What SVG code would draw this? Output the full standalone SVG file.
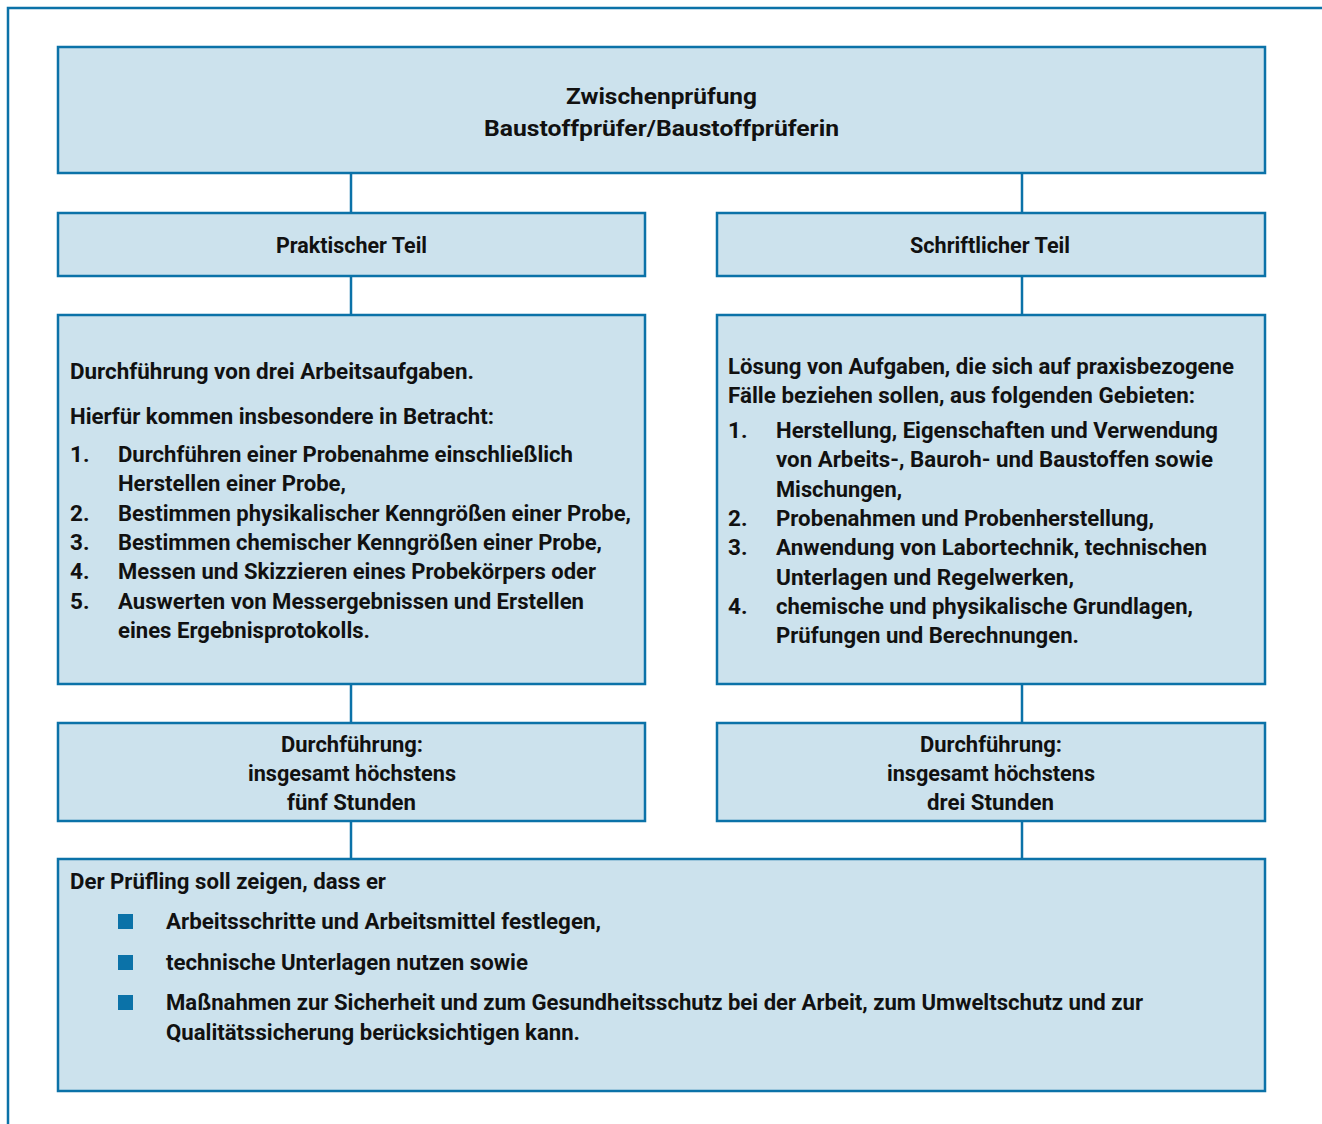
<svg xmlns="http://www.w3.org/2000/svg" width="1322" height="1124" viewBox="0 0 1322 1124">
  <style>
    .box { fill: #cce2ed; stroke: #0b72a8; stroke-width: 2.5; }
    .frame { fill: none; stroke: #0b72a8; stroke-width: 2.5; }
    .link { fill: none; stroke: #0b72a8; stroke-width: 2.5; }
    text { font-family: Roboto, "Liberation Sans", sans-serif; font-weight: bold; font-size: 22.5px; fill: #111111; }
    .c { text-anchor: middle; }
    .bullet { fill: #0b72a8; }
  </style>
  <rect width="1322" height="1124" fill="#ffffff"/>
  <!-- outer frame -->
  <path class="frame" d="M8 1124 V8 H1322"/>

  <!-- connectors -->
  <g id="connectors">
    <line class="link" x1="351" y1="173" x2="351" y2="213"/>
    <line class="link" x1="1022" y1="173" x2="1022" y2="213"/>
    <line class="link" x1="351" y1="276" x2="351" y2="315"/>
    <line class="link" x1="1022" y1="276" x2="1022" y2="315"/>
    <line class="link" x1="351" y1="684" x2="351" y2="723"/>
    <line class="link" x1="1022" y1="684" x2="1022" y2="723"/>
    <line class="link" x1="351" y1="821" x2="351" y2="859"/>
    <line class="link" x1="1022" y1="821" x2="1022" y2="859"/>
  </g>

  <g id="title">
    <rect class="box" x="58" y="47" width="1207" height="126"/>
    <text class="c" x="661.5" y="104" textLength="191" lengthAdjust="spacingAndGlyphs">Zwischenprüfung</text>
    <text class="c" x="661.5" y="136" textLength="355" lengthAdjust="spacingAndGlyphs">Baustoffprüfer/Baustoffprüferin</text>
  </g>

  <g id="praktisch-head">
    <rect class="box" x="58" y="213" width="587" height="63"/>
    <text class="c" x="351.5" y="253" textLength="151" lengthAdjust="spacingAndGlyphs">Praktischer Teil</text>
  </g>

  <g id="schriftlich-head">
    <rect class="box" x="717" y="213" width="548" height="63"/>
    <text class="c" x="990" y="253" textLength="160" lengthAdjust="spacingAndGlyphs">Schriftlicher Teil</text>
  </g>

  <g id="praktisch-inhalt">
    <rect class="box" x="58" y="315" width="587" height="369"/>
    <text x="70" y="379" textLength="404" lengthAdjust="spacingAndGlyphs">Durchführung von drei Arbeitsaufgaben.</text>
    <text x="70" y="424" textLength="424" lengthAdjust="spacingAndGlyphs">Hierfür kommen insbesondere in Betracht:</text>
    <text x="70" y="462">1.</text>
    <text x="118" y="462" textLength="455" lengthAdjust="spacingAndGlyphs">Durchführen einer Probenahme einschließlich</text>
    <text x="118" y="491" textLength="228" lengthAdjust="spacingAndGlyphs">Herstellen einer Probe,</text>
    <text x="70" y="521">2.</text>
    <text x="118" y="521" textLength="513" lengthAdjust="spacingAndGlyphs">Bestimmen physikalischer Kenngrößen einer Probe,</text>
    <text x="70" y="550">3.</text>
    <text x="118" y="550" textLength="484" lengthAdjust="spacingAndGlyphs">Bestimmen chemischer Kenngrößen einer Probe,</text>
    <text x="70" y="579">4.</text>
    <text x="118" y="579" textLength="478" lengthAdjust="spacingAndGlyphs">Messen und Skizzieren eines Probekörpers oder</text>
    <text x="70" y="609">5.</text>
    <text x="118" y="609" textLength="466" lengthAdjust="spacingAndGlyphs">Auswerten von Messergebnissen und Erstellen</text>
    <text x="118" y="638" textLength="252" lengthAdjust="spacingAndGlyphs">eines Ergebnisprotokolls.</text>
  </g>

  <g id="schriftlich-inhalt">
    <rect class="box" x="717" y="315" width="548" height="369"/>
    <text x="728" y="374" textLength="506" lengthAdjust="spacingAndGlyphs">Lösung von Aufgaben, die sich auf praxisbezogene</text>
    <text x="728" y="403" textLength="467" lengthAdjust="spacingAndGlyphs">Fälle beziehen sollen, aus folgenden Gebieten:</text>
    <text x="728" y="438">1.</text>
    <text x="776" y="438" textLength="442" lengthAdjust="spacingAndGlyphs">Herstellung, Eigenschaften und Verwendung</text>
    <text x="776" y="467" textLength="437" lengthAdjust="spacingAndGlyphs">von Arbeits-, Bauroh- und Baustoffen sowie</text>
    <text x="776" y="497" textLength="126" lengthAdjust="spacingAndGlyphs">Mischungen,</text>
    <text x="728" y="526">2.</text>
    <text x="776" y="526" textLength="378" lengthAdjust="spacingAndGlyphs">Probenahmen und Probenherstellung,</text>
    <text x="728" y="555">3.</text>
    <text x="776" y="555" textLength="431" lengthAdjust="spacingAndGlyphs">Anwendung von Labortechnik, technischen</text>
    <text x="776" y="585" textLength="298" lengthAdjust="spacingAndGlyphs">Unterlagen und Regelwerken,</text>
    <text x="728" y="614">4.</text>
    <text x="776" y="614" textLength="417" lengthAdjust="spacingAndGlyphs">chemische und physikalische Grundlagen,</text>
    <text x="776" y="643" textLength="303" lengthAdjust="spacingAndGlyphs">Prüfungen und Berechnungen.</text>
  </g>

  <g id="praktisch-dauer">
    <rect class="box" x="58" y="723" width="587" height="98"/>
    <text class="c" x="352" y="752" textLength="142" lengthAdjust="spacingAndGlyphs">Durchführung:</text>
    <text class="c" x="352" y="781" textLength="208" lengthAdjust="spacingAndGlyphs">insgesamt höchstens</text>
    <text class="c" x="351.5" y="810" textLength="129" lengthAdjust="spacingAndGlyphs">fünf Stunden</text>
  </g>

  <g id="schriftlich-dauer">
    <rect class="box" x="717" y="723" width="548" height="98"/>
    <text class="c" x="991" y="752" textLength="142" lengthAdjust="spacingAndGlyphs">Durchführung:</text>
    <text class="c" x="991" y="781" textLength="208" lengthAdjust="spacingAndGlyphs">insgesamt höchstens</text>
    <text class="c" x="990.5" y="810" textLength="127" lengthAdjust="spacingAndGlyphs">drei Stunden</text>
  </g>

  <g id="anforderungen">
    <rect class="box" x="58" y="859" width="1207" height="232"/>
    <text x="70" y="889" textLength="316" lengthAdjust="spacingAndGlyphs">Der Prüfling soll zeigen, dass er</text>
    <rect class="bullet" x="118" y="914" width="15" height="15"/>
    <text x="166" y="929" textLength="435" lengthAdjust="spacingAndGlyphs">Arbeitsschritte und Arbeitsmittel festlegen,</text>
    <rect class="bullet" x="118" y="955" width="15" height="15"/>
    <text x="166" y="970" textLength="362" lengthAdjust="spacingAndGlyphs">technische Unterlagen nutzen sowie</text>
    <rect class="bullet" x="118" y="995" width="15" height="15"/>
    <text x="166" y="1010" textLength="977" lengthAdjust="spacingAndGlyphs">Maßnahmen zur Sicherheit und zum Gesundheitsschutz bei der Arbeit, zum Umweltschutz und zur</text>
    <text x="166" y="1040" textLength="414" lengthAdjust="spacingAndGlyphs">Qualitätssicherung berücksichtigen kann.</text>
  </g>
</svg>
